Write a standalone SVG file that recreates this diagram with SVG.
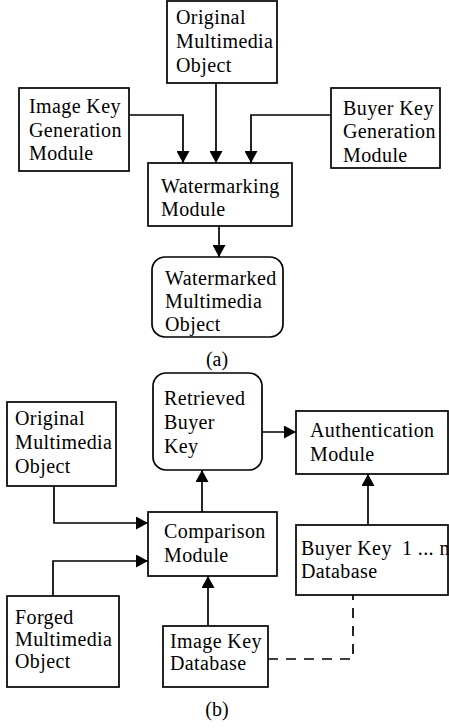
<svg xmlns="http://www.w3.org/2000/svg" width="449" height="728" viewBox="0 0 449 728">
  <style>
    .box { fill: #fff; stroke: #000; stroke-width: 1.7; }
    .lbl { font-family: "Liberation Serif", "Times New Roman", serif; font-size: 20px; letter-spacing: 0.4px; fill: #000; }
    .cap { font-family: "Liberation Serif", "Times New Roman", serif; font-size: 20px; fill: #000; text-anchor: middle; }
    .wire { fill: none; stroke: #000; stroke-width: 1.7; }
    .dash { fill: none; stroke: #000; stroke-width: 1.7; stroke-dasharray: 10 8; }
  </style>
  <defs>
    <marker id="arrow" markerUnits="userSpaceOnUse" markerWidth="13" markerHeight="13" refX="12" refY="6.5" orient="auto">
      <path d="M0,0 L12,6.5 L0,13 z" fill="#000"/>
    </marker>
  </defs>
  <rect width="449" height="728" fill="#fff"/>

  <!-- (a) watermark embedding -->
  <g id="orig-a">
    <rect class="box" x="167" y="1" width="110" height="82"/>
    <text class="lbl" x="176" y="24">Original</text>
    <text class="lbl" x="176" y="48">Multimedia</text>
    <text class="lbl" x="176" y="72">Object</text>
  </g>
  <g id="imgkeygen">
    <rect class="box" x="19" y="88" width="110" height="83"/>
    <text class="lbl" x="29" y="113">Image Key</text>
    <text class="lbl" x="29" y="137">Generation</text>
    <text class="lbl" x="29" y="160">Module</text>
  </g>
  <g id="buyerkeygen">
    <rect class="box" x="331" y="88" width="109" height="80"/>
    <text class="lbl" x="343" y="115">Buyer Key</text>
    <text class="lbl" x="343" y="138">Generation</text>
    <text class="lbl" x="343" y="162">Module</text>
  </g>
  <g id="watermarking">
    <rect class="box" x="148" y="163" width="144" height="63"/>
    <text class="lbl" x="161" y="193">Watermarking</text>
    <text class="lbl" x="161" y="216">Module</text>
  </g>
  <g id="watermarked">
    <rect class="box" x="152" y="257" width="131" height="80" rx="13"/>
    <text class="lbl" x="165" y="285">Watermarked</text>
    <text class="lbl" x="165" y="308">Multimedia</text>
    <text class="lbl" x="165" y="331">Object</text>
  </g>
  <text class="cap" x="217" y="366">(a)</text>

  <!-- (b) authentication -->
  <g id="retrieved">
    <rect class="box" x="153" y="373" width="109" height="97" rx="13"/>
    <text class="lbl" x="164" y="405">Retrieved</text>
    <text class="lbl" x="164" y="429">Buyer</text>
    <text class="lbl" x="164" y="453">Key</text>
  </g>
  <g id="orig-b">
    <rect class="box" x="7" y="402" width="109" height="84"/>
    <text class="lbl" x="15" y="425">Original</text>
    <text class="lbl" x="15" y="449">Multimedia</text>
    <text class="lbl" x="15" y="473">Object</text>
  </g>
  <g id="authentication">
    <rect class="box" x="296" y="411" width="152" height="63"/>
    <text class="lbl" x="310" y="437">Authentication</text>
    <text class="lbl" x="310" y="461">Module</text>
  </g>
  <g id="comparison">
    <rect class="box" x="148" y="512" width="129" height="64"/>
    <text class="lbl" x="164" y="538">Comparison</text>
    <text class="lbl" x="164" y="562">Module</text>
  </g>
  <g id="buyerdb">
    <rect class="box" x="296" y="525" width="152" height="70"/>
    <text class="lbl" x="301" y="555">Buyer Key<tspan x="402">1 ... n</tspan></text>
    <text class="lbl" x="301" y="578">Database</text>
  </g>
  <g id="forged">
    <rect class="box" x="7" y="596" width="112" height="91"/>
    <text class="lbl" x="15" y="624">Forged</text>
    <text class="lbl" x="15" y="646">Multimedia</text>
    <text class="lbl" x="15" y="668">Object</text>
  </g>
  <g id="imgkeydb">
    <rect class="box" x="163" y="626" width="105" height="61"/>
    <text class="lbl" x="170" y="648">Image Key</text>
    <text class="lbl" x="170" y="670">Database</text>
  </g>
  <text class="cap" x="217" y="716">(b)</text>

  <g id="connectors">
    <polyline class="wire" points="129,115 183,115 183,163" marker-end="url(#arrow)"/>
    <line class="wire" x1="216" y1="83" x2="216" y2="163" marker-end="url(#arrow)"/>
    <polyline class="wire" points="331,115 251,115 251,163" marker-end="url(#arrow)"/>
    <line class="wire" x1="219" y1="226" x2="219" y2="257" marker-end="url(#arrow)"/>
    <line class="wire" x1="262" y1="432" x2="296" y2="432" marker-end="url(#arrow)"/>
    <line class="wire" x1="202" y1="512" x2="202" y2="470" marker-end="url(#arrow)"/>
    <polyline class="wire" points="54,486 54,523 148,523" marker-end="url(#arrow)"/>
    <polyline class="wire" points="53,596 53,561 148,561" marker-end="url(#arrow)"/>
    <line class="wire" x1="368" y1="525" x2="368" y2="474" marker-end="url(#arrow)"/>
    <line class="wire" x1="208" y1="626" x2="208" y2="576" marker-end="url(#arrow)"/>
    <polyline class="dash" points="268,659 353,659 353,595"/>
  </g>
</svg>
